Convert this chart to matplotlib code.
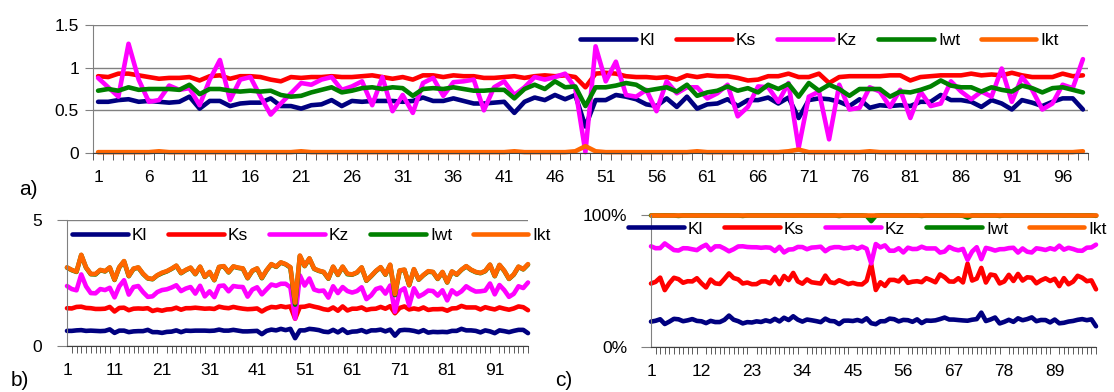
import numpy as np
import matplotlib.pyplot as plt
from matplotlib.ticker import FixedLocator, FuncFormatter

plt.rcParams['font.family'] = ['Liberation Sans', 'DejaVu Sans']
plt.rcParams['font.size'] = 12.5

# sample index 1..98
idx = np.arange(1, 99)

kl = [0.60, 0.60, 0.62, 0.63, 0.60, 0.61, 0.60, 0.59, 0.60, 0.66,
      0.52, 0.61, 0.61, 0.55, 0.58, 0.59, 0.59, 0.64, 0.55, 0.55,
      0.52, 0.56, 0.57, 0.62, 0.55, 0.61, 0.60, 0.61, 0.61, 0.61,
      0.60, 0.61, 0.65, 0.61, 0.61, 0.64, 0.61, 0.58, 0.58, 0.59,
      0.60, 0.47, 0.60, 0.65, 0.62, 0.68, 0.63, 0.68, 0.31, 0.62,
      0.62, 0.68, 0.66, 0.63, 0.57, 0.55, 0.64, 0.54, 0.66, 0.52,
      0.57, 0.58, 0.63, 0.55, 0.62, 0.62, 0.65, 0.58, 0.65, 0.41,
      0.62, 0.64, 0.63, 0.60, 0.55, 0.63, 0.53, 0.56, 0.55, 0.56,
      0.55, 0.60, 0.60, 0.68, 0.62, 0.62, 0.60, 0.54, 0.62, 0.58,
      0.51, 0.62, 0.59, 0.55, 0.60, 0.64, 0.64, 0.51]

ks = [0.90, 0.89, 0.93, 0.93, 0.91, 0.89, 0.87, 0.88, 0.88, 0.89,
      0.85, 0.90, 0.91, 0.87, 0.90, 0.90, 0.89, 0.86, 0.84, 0.89,
      0.88, 0.89, 0.89, 0.90, 0.89, 0.89, 0.90, 0.91, 0.89, 0.87,
      0.89, 0.86, 0.91, 0.91, 0.89, 0.91, 0.90, 0.90, 0.88, 0.88,
      0.89, 0.90, 0.88, 0.90, 0.91, 0.90, 0.91, 0.89, 0.77, 0.93,
      0.94, 0.93, 0.90, 0.89, 0.89, 0.88, 0.89, 0.86, 0.91, 0.89,
      0.91, 0.90, 0.90, 0.88, 0.85, 0.86, 0.90, 0.90, 0.93, 0.89,
      0.89, 0.93, 0.82, 0.89, 0.90, 0.90, 0.90, 0.90, 0.91, 0.91,
      0.85, 0.89, 0.90, 0.91, 0.91, 0.91, 0.93, 0.91, 0.92, 0.91,
      0.94, 0.91, 0.89, 0.89, 0.89, 0.93, 0.90, 0.91]

kz = [0.88, 0.77, 0.66, 1.28, 0.86, 0.60, 0.62, 0.79, 0.74, 0.76,
      0.56, 0.86, 1.09, 0.62, 0.86, 0.89, 0.66, 0.45, 0.58, 0.70,
      0.82, 0.80, 0.86, 0.89, 0.74, 0.78, 0.84, 0.56, 0.89, 0.49,
      0.68, 0.47, 0.82, 0.88, 0.67, 0.83, 0.84, 0.86, 0.50, 0.77,
      0.84, 0.68, 0.77, 0.89, 0.86, 0.89, 0.93, 0.76, 0.01, 1.25,
      0.84, 1.07, 0.68, 0.66, 0.74, 0.49, 0.84, 0.70, 0.77, 0.77,
      0.64, 0.70, 0.80, 0.43, 0.54, 0.78, 0.77, 0.60, 0.82, 0.06,
      0.66, 0.72, 0.16, 0.80, 0.51, 0.53, 0.77, 0.72, 0.54, 0.74,
      0.41, 0.72, 0.55, 0.58, 0.84, 0.72, 0.63, 0.72, 0.66, 0.99,
      0.60, 0.89, 0.74, 0.51, 0.58, 0.80, 0.76, 1.10]

iwt = [0.73, 0.75, 0.73, 0.77, 0.74, 0.75, 0.75, 0.75, 0.74, 0.80,
       0.69, 0.75, 0.75, 0.73, 0.72, 0.73, 0.72, 0.73, 0.68, 0.66,
       0.67, 0.71, 0.74, 0.77, 0.71, 0.73, 0.76, 0.77, 0.75, 0.77,
       0.76, 0.67, 0.75, 0.76, 0.75, 0.77, 0.75, 0.73, 0.73, 0.74,
       0.74, 0.64, 0.75, 0.80, 0.75, 0.84, 0.77, 0.78, 0.55, 0.77,
       0.77, 0.79, 0.82, 0.80, 0.73, 0.75, 0.77, 0.72, 0.80, 0.67,
       0.71, 0.73, 0.78, 0.73, 0.76, 0.71, 0.80, 0.75, 0.81, 0.66,
       0.82, 0.73, 0.80, 0.75, 0.67, 0.75, 0.75, 0.75, 0.66, 0.72,
       0.71, 0.74, 0.78, 0.85, 0.79, 0.77, 0.77, 0.72, 0.77, 0.74,
       0.72, 0.79, 0.76, 0.71, 0.76, 0.77, 0.74, 0.71]

ikt = [0.01, 0.01, 0.01, 0.01, 0.01, 0.01, 0.02, 0.01, 0.01, 0.01,
       0.01, 0.01, 0.01, 0.01, 0.01, 0.01, 0.01, 0.01, 0.01, 0.01,
       0.02, 0.01, 0.01, 0.01, 0.01, 0.01, 0.01, 0.01, 0.01, 0.01,
       0.01, 0.01, 0.01, 0.01, 0.01, 0.01, 0.01, 0.01, 0.01, 0.01,
       0.01, 0.02, 0.01, 0.01, 0.01, 0.01, 0.01, 0.02, 0.08, 0.02,
       0.01, 0.01, 0.01, 0.01, 0.01, 0.01, 0.01, 0.01, 0.01, 0.02,
       0.01, 0.01, 0.01, 0.01, 0.01, 0.01, 0.01, 0.01, 0.02, 0.04,
       0.01, 0.01, 0.01, 0.01, 0.01, 0.01, 0.02, 0.01, 0.01, 0.01,
       0.01, 0.01, 0.01, 0.01, 0.01, 0.01, 0.01, 0.01, 0.01, 0.01,
       0.01, 0.01, 0.01, 0.01, 0.01, 0.01, 0.01, 0.02]

names = ['Kl', 'Ks', 'Kz', 'Iwt', 'Ikt']
colors = ['#000080', '#FF0000', '#FF00FF', '#008000', '#FF6600']
series = np.array([kl, ks, kz, iwt, ikt])

cum = np.cumsum(series, axis=0)
pct = cum / cum[-1] * 100

W, H = 1114, 392
fig = plt.figure(figsize=(W / 100, H / 100), dpi=100)


def px_axes(left, top, right, bottom):
    return fig.add_axes([left / W, 1 - bottom / H, (right - left) / W, (bottom - top) / H])


def style(ax, label_every, between):
    for s in ['top', 'right']:
        ax.spines[s].set_visible(False)
    ax.spines['left'].set_color('#808080')
    ax.spines['bottom'].set_color('#404040')
    ax.yaxis.grid(True, color='#808080', lw=1)
    ax.set_axisbelow(True)
    ax.tick_params(axis='y', length=6, color='#808080', pad=4)
    ax.set_xticks(idx[::label_every])
    ax.set_xticklabels([str(i) for i in idx[::label_every]])
    ax.tick_params(axis='x', which='major', length=0, pad=12)
    if between:
        ax.xaxis.set_minor_locator(FixedLocator(np.arange(0.5, 99, 1)))
    else:
        ax.xaxis.set_minor_locator(FixedLocator(idx))
    ax.tick_params(axis='x', which='minor', length=5, color='#404040')


def draw(ax, data):
    lines = []
    for vals, name, c in zip(data, names, colors):
        ln, = ax.plot(idx, vals, color=c, lw=3.3, label=name, clip_on=False,
                      solid_joinstyle='round', solid_capstyle='round')
        lines.append(ln)
    return lines


def legend(ax, x, y):
    ax.legend(ncol=5, frameon=False, handlelength=3.2, handletextpad=0.25,
              columnspacing=1.2, borderpad=0, borderaxespad=0,
              loc='center left', bbox_to_anchor=(x / W, 1 - y / H),
              bbox_transform=fig.transFigure)


# a) raw values
ax_a = px_axes(93, 25, 1088, 153)
draw(ax_a, series)
ax_a.set_xlim(0.5, 98.5)
ax_a.set_ylim(0, 1.5)
ax_a.set_yticks([0, 0.5, 1, 1.5])
ax_a.set_yticklabels(['0', '0.5', '1', '1.5'])
style(ax_a, 5, True)
legend(ax_a, 580, 40)

# b) stacked values
ax_b = px_axes(67, 220, 528, 346)
draw(ax_b, cum)
ax_b.set_xlim(1, 98)
ax_b.set_ylim(0, 5)
ax_b.set_yticks([0, 5])
style(ax_b, 10, False)
ax_b.tick_params(axis='y', length=7, pad=11)
legend(ax_b, 72, 235)

# c) stacked 100 %
ax_c = px_axes(651, 215, 1096, 347)
draw(ax_c, pct)
ax_c.set_xlim(1, 98)
ax_c.set_ylim(0, 100)
ax_c.set_yticks([0, 100])
ax_c.yaxis.set_major_formatter(FuncFormatter(lambda v, p: f'{v:.0f}%'))
style(ax_c, 11, False)
ax_c.tick_params(axis='y', length=7, pad=10)
legend(ax_c, 628, 229)

fig.text(28 / W, 1 - 189 / H, 'a)', fontsize=15, ha='center', va='center')
fig.text(20 / W, 1 - 380 / H, 'b)', fontsize=15, ha='center', va='center')
fig.text(564 / W, 1 - 380 / H, 'c)', fontsize=15, ha='center', va='center')

fig.savefig('out.png', dpi=100)
